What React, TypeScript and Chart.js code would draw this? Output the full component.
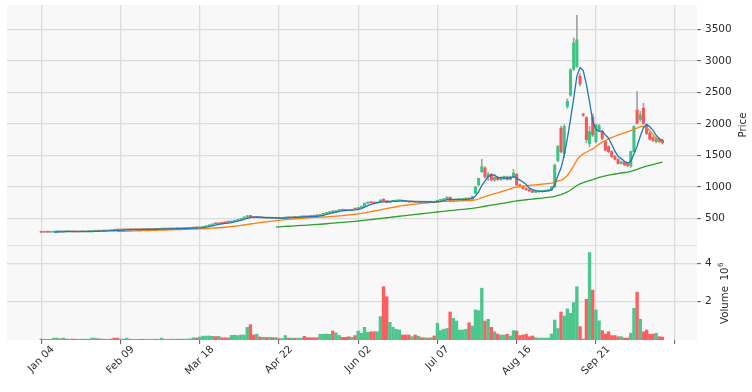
import React, { useEffect, useRef } from 'react';
import { Chart, registerables } from 'chart.js';

Chart.register(...registerables);

// ---- data (one entry per trading day, index 0 = Jan 04) ----
const opens = [
  280, 278, 279, 278, 281, 284, 287, 285, 289, 287,
  288, 286, 285, 288, 287, 290, 289, 294, 297, 296,
  299, 298, 303, 312, 318, 314, 317, 316, 321, 319,
  321, 320, 323, 322, 325, 323, 326, 324, 328, 332,
  330, 334, 332, 336, 335, 339, 337, 341, 344, 349,
  348, 355, 365, 380, 395, 418, 412, 430, 432, 445,
  440, 452, 466, 480, 497, 520, 545, 518, 510, 516,
  507, 512, 503, 508, 501, 505, 500, 504, 514, 510,
  517, 514, 523, 532, 530, 534, 538, 545, 540, 560,
  578, 591, 614, 600, 622, 638, 634, 630, 621, 655,
  647, 670, 692, 738, 762, 752, 742, 755, 800, 778,
  752, 768, 776, 780, 788, 775, 768, 758, 768, 758,
  763, 757, 762, 756, 764, 755, 786, 795, 810, 835,
  776, 790, 795, 800, 808, 822, 805, 900, 1030, 1240,
  1300, 1160, 1200, 1110, 1150, 1115, 1150, 1160, 1120, 1160,
  1200, 1030, 1005, 975, 955, 935, 915, 922, 928, 932,
  940, 952, 1000, 1420, 1930, 1530, 2280, 2460, 2870, 2915,
  2760, 2150, 2100, 1690, 2115, 1720, 1905, 1880, 1720, 1640,
  1560, 1480, 1435, 1375, 1395, 1370, 1330, 1560, 2220, 2070,
  2250, 1960, 1850, 1780, 1720, 1760, 1740,
];
const highs = [
  282, 281, 281, 282, 285, 288, 289, 290, 291, 290,
  289, 288, 289, 290, 291, 292, 295, 298, 299, 300,
  302, 304, 306, 314, 320, 318, 320, 322, 323, 322,
  323, 324, 325, 326, 327, 327, 328, 329, 333, 334,
  335, 336, 337, 339, 340, 341, 342, 345, 350, 353,
  356, 368, 382, 397, 408, 420, 424, 432, 434, 447,
  455, 470, 484, 500, 524, 545, 548, 522, 520, 518,
  514, 514, 510, 510, 507, 508, 506, 516, 517, 519,
  520, 525, 531, 534, 532, 536, 540, 548, 562, 580,
  594, 605, 618, 624, 637, 640, 636, 632, 644, 658,
  672, 694, 742, 760, 766, 756, 758, 795, 812, 785,
  772, 780, 784, 790, 790, 778, 770, 768, 770, 766,
  766, 764, 765, 763, 768, 790, 800, 815, 840, 838,
  795, 800, 805, 812, 820, 826, 850, 1005, 1140, 1440,
  1320, 1230, 1215, 1160, 1165, 1160, 1170, 1170, 1170, 1280,
  1210, 1045, 1015, 985, 965, 945, 930, 935, 940, 948,
  958, 1010, 1360, 1660, 1965, 1990, 2400, 2880, 3370, 3730,
  2800, 2170, 2120, 1960, 2160, 2000, 1990, 1900, 1740, 1650,
  1575, 1500, 1450, 1410, 1405, 1380, 1570, 1970, 2515, 2200,
  2330, 1980, 1870, 1800, 1790, 1775, 1760,
];
const lows = [
  276, 276, 277, 277, 280, 283, 284, 284, 286, 285,
  285, 284, 284, 286, 286, 288, 288, 293, 294, 295,
  297, 297, 301, 305, 312, 312, 315, 315, 318, 317,
  319, 319, 320, 321, 322, 322, 323, 323, 327, 329,
  329, 331, 331, 334, 334, 336, 336, 339, 343, 346,
  347, 353, 363, 378, 392, 408, 410, 418, 424, 436,
  438, 450, 464, 478, 495, 518, 512, 506, 507, 504,
  505, 500, 500, 498, 497, 497, 496, 502, 508, 508,
  512, 512, 520, 520, 520, 525, 530, 536, 538, 558,
  575, 588, 598, 598, 620, 626, 622, 618, 619, 644,
  645, 668, 690, 734, 745, 738, 740, 752, 770, 748,
  750, 764, 770, 776, 770, 762, 755, 755, 756, 754,
  755, 754, 754, 752, 752, 753, 780, 790, 805, 770,
  762, 775, 788, 795, 800, 800, 800, 895, 1020, 1230,
  1140, 1100, 1090, 1085, 1100, 1105, 1120, 1105, 1110, 1150,
  1020, 995, 965, 945, 925, 905, 905, 910, 918, 925,
  935, 948, 990, 1400, 1540, 1470, 2250, 2440, 2850, 2900,
  2600, 2120, 1700, 1640, 1800, 1700, 1880, 1750, 1570, 1540,
  1470, 1430, 1360, 1360, 1340, 1320, 1310, 1550, 2000, 2040,
  1990, 1830, 1740, 1720, 1700, 1700, 1680,
];
const closes = [
  278, 279, 278, 281, 284, 287, 285, 289, 287, 288,
  286, 285, 288, 287, 290, 289, 294, 297, 296, 299,
  298, 303, 302, 308, 314, 317, 316, 321, 319, 321,
  320, 323, 322, 325, 323, 326, 324, 328, 332, 330,
  334, 332, 336, 335, 339, 337, 341, 344, 349, 348,
  355, 365, 380, 395, 405, 412, 422, 420, 428, 440,
  452, 466, 480, 497, 520, 540, 518, 510, 516, 507,
  512, 503, 508, 501, 505, 500, 504, 514, 510, 517,
  514, 523, 528, 523, 524, 528, 533, 540, 560, 578,
  591, 602, 600, 622, 634, 629, 625, 621, 642, 647,
  670, 692, 738, 755, 748, 742, 755, 790, 775, 752,
  768, 776, 780, 785, 772, 765, 758, 765, 758, 763,
  757, 762, 756, 760, 755, 786, 795, 810, 835, 776,
  790, 795, 800, 808, 815, 805, 845, 1000, 1135, 1320,
  1160, 1200, 1110, 1150, 1115, 1150, 1160, 1120, 1160, 1220,
  1030, 1005, 975, 955, 935, 915, 922, 928, 932, 940,
  952, 1000, 1345, 1640, 1560, 1960, 2360, 2860, 3290, 3340,
  2640, 2140, 1750, 1880, 1825, 1985, 1970, 1770, 1585, 1560,
  1480, 1440, 1370, 1395, 1350, 1340, 1560, 1960, 2010, 2150,
  2010, 1850, 1760, 1740, 1760, 1720, 1700,
];
// volume in millions of shares
const volumes = [
  0.05, 0.04, 0.03, 0.04, 0.10, 0.10, 0.06, 0.10, 0.05, 0.04,
  0.05, 0.04, 0.04, 0.04, 0.05, 0.04, 0.10, 0.10, 0.06, 0.05,
  0.04, 0.04, 0.05, 0.10, 0.10, 0.05, 0.04, 0.10, 0.04, 0.04,
  0.03, 0.04, 0.04, 0.04, 0.03, 0.04, 0.04, 0.04, 0.10, 0.04,
  0.04, 0.04, 0.04, 0.04, 0.05, 0.04, 0.05, 0.06, 0.12, 0.10,
  0.15, 0.20, 0.20, 0.21, 0.19, 0.18, 0.19, 0.12, 0.12, 0.11,
  0.24, 0.25, 0.23, 0.26, 0.26, 0.66, 0.80, 0.26, 0.30, 0.16,
  0.14, 0.13, 0.14, 0.12, 0.13, 0.08, 0.08, 0.23, 0.10, 0.10,
  0.09, 0.10, 0.10, 0.19, 0.12, 0.12, 0.12, 0.12, 0.30, 0.30,
  0.31, 0.30, 0.47, 0.37, 0.24, 0.14, 0.14, 0.17, 0.14, 0.23,
  0.47, 0.35, 0.66, 0.40, 0.43, 0.43, 0.43, 1.22, 2.78, 2.26,
  0.92, 0.66, 0.56, 0.52, 0.26, 0.26, 0.26, 0.17, 0.26, 0.20,
  0.12, 0.12, 0.10, 0.12, 0.21, 0.87, 0.49, 0.56, 0.60, 1.46,
  1.13, 0.99, 0.52, 0.52, 0.56, 0.90, 0.73, 1.57, 1.53, 2.70,
  0.99, 1.08, 0.66, 0.43, 0.31, 0.26, 0.26, 0.30, 0.21, 0.49,
  0.47, 0.23, 0.26, 0.30, 0.17, 0.21, 0.12, 0.10, 0.10, 0.10,
  0.10, 0.31, 1.04, 0.60, 1.46, 1.25, 1.62, 1.39, 1.95, 2.78,
  0.70, 0.05, 2.12, 4.56, 2.60, 1.57, 1.00, 0.49, 0.31, 0.43,
  0.23, 0.23, 0.17, 0.17, 0.10, 0.10, 0.35, 1.65, 2.49, 1.08,
  0.43, 0.52, 0.30, 0.31, 0.35, 0.17, 0.15,
];

const tickPositions = [0, 25, 50, 75, 100, 125, 150, 175, 200];
const tickLabels = ['Jan 04', 'Feb 09', 'Mar 18', 'Apr 22', 'Jun 02', 'Jul 07', 'Aug 16', 'Sep 21', ''];
const priceTicks = [500, 1000, 1500, 2000, 2500, 3000, 3500];
const volumeTicks = [2, 4];
const mavPeriods = [5, 25, 75];
const mavColors = ['#1f77b4', '#ff7f0e', '#2ca02c'];

const UP = '#3cc482';
const DOWN = '#fa5457';
const VUP = '#4cc68d';
const VDOWN = '#fd5f61';
const WICK = '#a2a2a2';
const TEXT = '#2b2b2b';
const FONT = '"DejaVu Sans", sans-serif';

function movingAverage(values: number[], n: number): (number | null)[] {
  return values.map((_, i) => {
    if (i < n - 1) return null;
    let s = 0;
    for (let k = i - n + 1; k <= i; k++) s += values[k];
    return s / n;
  });
}

function zeroPadding(s: any) {
  s.paddingTop = 0;
  s.paddingBottom = 0;
  s.paddingLeft = 0;
  s.paddingRight = 0;
}

export default function App() {
  const ref = useRef<HTMLCanvasElement | null>(null);

  useEffect(() => {
    document.body.style.margin = '0';
    const canvas = ref.current;
    if (!canvas) return;

    const isUp = closes.map((c, i) => c >= opens[i]);

    const panelPlugin = {
      id: 'panels',
      beforeDraw(chart: any) {
        const { ctx, chartArea } = chart;
        ctx.save();
        ctx.fillStyle = '#f8f8f8';
        ctx.fillRect(chartArea.left, chartArea.top, chartArea.right - chartArea.left, chartArea.bottom - chartArea.top);
        ctx.restore();
      },
      beforeDatasetsDraw(chart: any) {
        const { ctx, chartArea } = chart;
        const yv = chart.scales.yv;
        ctx.save();
        ctx.strokeStyle = '#e2e2e2';
        ctx.lineWidth = 1;
        ctx.beginPath();
        ctx.moveTo(chartArea.left, Math.round(yv.top) + 0.5);
        ctx.lineTo(chartArea.right, Math.round(yv.top) + 0.5);
        ctx.stroke();
        ctx.restore();
      },
      afterDraw(chart: any) {
        const { ctx } = chart;
        const xs = chart.scales.x;
        const y = chart.scales.y;
        const yv = chart.scales.yv;
        ctx.save();
        ctx.fillStyle = TEXT;
        // rotated date labels, centred under their ticks
        ctx.font = `10.3px ${FONT}`;
        ctx.textAlign = 'center';
        ctx.textBaseline = 'middle';
        tickPositions.forEach((p, k) => {
          const label = tickLabels[k];
          if (!label) return;
          const px = xs.getPixelForValue(p);
          const w = ctx.measureText(label).width;
          const cy = xs.top + 5 + 0.7071 * (w / 2 + 3.8);
          ctx.save();
          ctx.translate(px, cy);
          ctx.rotate(-Math.PI / 4);
          ctx.fillText(label, 0, 0);
          ctx.restore();
        });
        // Price label
        ctx.font = `10.2px ${FONT}`;
        ctx.save();
        ctx.translate(743.5, (y.top + y.bottom) / 2);
        ctx.rotate(-Math.PI / 2);
        ctx.textAlign = 'center';
        ctx.fillText('Price', 0, 0);
        ctx.restore();
        // Volume label with 10^6 offset
        ctx.save();
        ctx.translate(725, (yv.top + yv.bottom) / 2 + 1);
        ctx.rotate(-Math.PI / 2);
        ctx.textAlign = 'left';
        ctx.font = `10.2px ${FONT}`;
        const w1 = ctx.measureText('Volume').width;
        const w2 = ctx.measureText('10').width;
        ctx.font = `7.2px ${FONT}`;
        const w3 = ctx.measureText('6').width;
        const gap = 5.5;
        const total = w1 + gap + w2 + w3;
        let x0 = -total / 2;
        ctx.font = `10.2px ${FONT}`;
        ctx.fillText('Volume', x0, 0);
        x0 += w1 + gap;
        ctx.fillText('10', x0, 0);
        x0 += w2 + 0.5;
        ctx.font = `7.2px ${FONT}`;
        ctx.fillText('6', x0, -4);
        ctx.restore();
        ctx.restore();
      },
    };

    const tickFont = { family: FONT, size: 10.5 };
    const gridCfg = {
      color: '#dcdcdc',
      lineWidth: 1.3,
      tickColor: '#555',
      tickLength: 4,
      tickWidth: 1,
    };

    const mavDatasets = mavPeriods.map((n, k) => {
      const ma = movingAverage(closes, n);
      return {
        type: 'line' as const,
        label: `MA${n}`,
        data: ma.map((v, i) => ({ x: i, y: v })),
        borderColor: mavColors[k],
        backgroundColor: mavColors[k],
        borderWidth: 1.3,
        pointRadius: 0,
        tension: 0,
        spanGaps: false,
        yAxisID: 'y',
        xAxisID: 'x',
        order: 0,
      };
    });

    const chart = new Chart(canvas, {
      type: 'bar',
      data: {
        datasets: [
          ...mavDatasets,
          {
            type: 'bar',
            label: 'wick',
            data: closes.map((_, i) => ({ x: i, y: [lows[i], highs[i]] })),
            backgroundColor: WICK,
            barThickness: 1,
            grouped: false,
            yAxisID: 'y',
            xAxisID: 'x',
            order: 3,
          },
          {
            type: 'bar',
            label: 'body',
            data: closes.map((c, i) => ({ x: i, y: [opens[i], c] })),
            backgroundColor: isUp.map((u) => (u ? UP : DOWN)),
            barThickness: 2.4,
            minBarLength: 1,
            grouped: false,
            yAxisID: 'y',
            xAxisID: 'x',
            order: 2,
          },
          {
            type: 'bar',
            label: 'volume',
            data: volumes.map((v, i) => ({ x: i, y: v })),
            backgroundColor: isUp.map((u) => (u ? VUP : VDOWN)),
            barThickness: 2.7,
            grouped: false,
            yAxisID: 'yv',
            xAxisID: 'x',
            order: 4,
          },
        ] as any,
      },
      options: {
        responsive: false,
        animation: false,
        devicePixelRatio: 1,
        layout: { padding: { left: 7, top: 5, right: 0, bottom: 0 } },
        plugins: { legend: { display: false }, tooltip: { enabled: false } },
        scales: {
          x: {
            type: 'linear',
            position: 'bottom',
            min: -10.8,
            max: 206.9,
            offset: false,
            afterBuildTicks: (s: any) => {
              s.ticks = tickPositions.map((v) => ({ value: v }));
            },
            afterFit: (s: any) => {
              s.height = 52;
              zeroPadding(s);
            },
            ticks: { display: false, autoSkip: false },
            grid: { ...gridCfg, offset: false },
            border: { display: false },
          },
          y: {
            type: 'linear',
            position: 'right',
            stack: 'panels',
            stackWeight: 240,
            min: 75,
            max: 3893,
            afterBuildTicks: (s: any) => {
              s.ticks = priceTicks.map((v) => ({ value: v }));
            },
            afterFit: (s: any) => {
              s.width = 55;
              zeroPadding(s);
            },
            ticks: {
              padding: 4,
              color: TEXT,
              font: tickFont,
              callback: (v: any) => String(v),
            },
            grid: gridCfg,
            border: { display: false },
          },
          yv: {
            type: 'linear',
            position: 'right',
            stack: 'panels',
            stackWeight: 95,
            min: 0,
            max: 4.953,
            afterBuildTicks: (s: any) => {
              s.ticks = volumeTicks.map((v) => ({ value: v }));
            },
            afterFit: (s: any) => {
              s.width = 55;
              zeroPadding(s);
            },
            ticks: {
              padding: 4,
              color: TEXT,
              font: tickFont,
              callback: (v: any) => String(v),
            },
            grid: gridCfg,
            border: { display: false },
          },
        },
      } as any,
      plugins: [panelPlugin],
    });

    return () => {
      chart.destroy();
    };
  }, []);

  return (
    <div style={{ width: 752, height: 392, background: '#ffffff' }}>
      <canvas ref={ref} width={752} height={392} style={{ width: 752, height: 392, display: 'block' }} />
    </div>
  );
}
